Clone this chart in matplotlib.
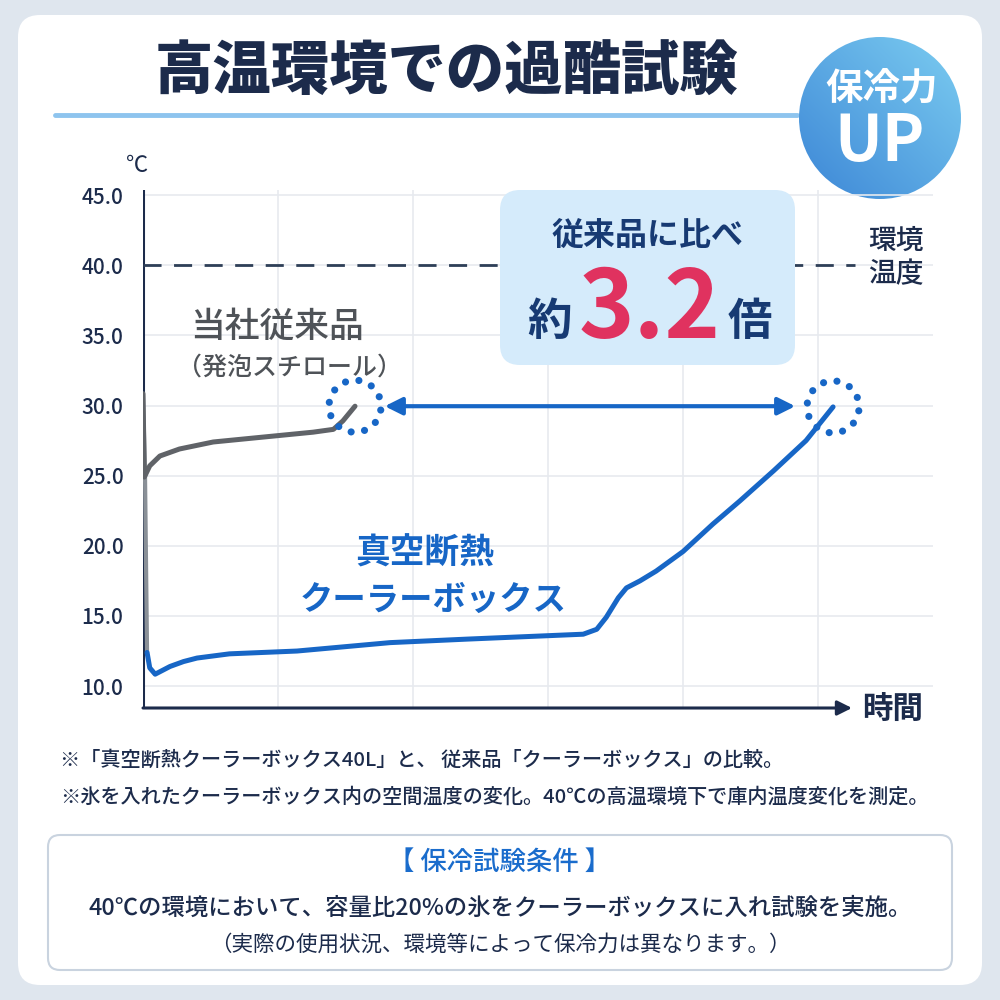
import numpy as np
import matplotlib.pyplot as plt
from matplotlib.patches import FancyBboxPatch, Circle

plt.rcParams['font.family'] = ['Noto Sans CJK JP', 'DejaVu Sans']

# --- Data ---
y_ticks = [10.0, 15.0, 20.0, 25.0, 30.0, 35.0, 40.0, 45.0]
x_grid = [1, 2, 3, 4, 5]
ambient_temp = 40.0

# conventional (styrofoam) box: time in grid units, temperature in C
conv_x = [0.0, 0.01, 0.05, 0.125, 0.27, 0.52, 0.89, 1.26, 1.41, 1.48, 1.57]
conv_y = [30.85, 24.9, 25.7, 26.4, 26.9, 27.4, 27.75, 28.1, 28.3, 28.9, 29.95]

# vacuum insulated cooler box
vac_x = [0.0, 0.015, 0.03, 0.05, 0.09, 0.14, 0.20, 0.30, 0.40, 0.64, 1.14, 1.83, 2.40, 2.94,
         3.26, 3.36, 3.43, 3.52, 3.58, 3.68, 3.80, 4.00, 4.22, 4.42, 4.67, 4.91, 5.11]
vac_y = [30.8, 25.0, 12.4, 11.3, 10.85, 11.1, 11.4, 11.75, 12.0, 12.3, 12.5, 13.1, 13.35, 13.57,
         13.7, 14.05, 14.9, 16.3, 17.0, 17.5, 18.2, 19.6, 21.55, 23.2, 25.35, 27.5, 29.9]

ratio_text = "3.2"

NAVY = '#1c2b4b'
BLUE = '#1766c6'
GRAY = '#606368'

# --- Figure and background ---
fig = plt.figure(figsize=(10, 10), dpi=100)
fig.patch.set_facecolor('#dfe6ee')

bg = fig.add_axes([0, 0, 1, 1])
bg.set_xlim(0, 1000)
bg.set_ylim(1000, 0)
bg.axis('off')

bg.add_patch(FancyBboxPatch((18, 15), 964, 970, boxstyle='round,pad=0,rounding_size=22',
                            fc='white', ec='none'))

bg.text(446, 73, "高温環境での過酷試験", ha='center', va='center', fontsize=42,
        fontweight=900, color=NAVY)
bg.plot([55, 797], [115, 115], color='#8ec4ee', lw=3.5, solid_capstyle='round')

# badge with gradient
gx, gy = np.meshgrid(np.linspace(0, 1, 200), np.linspace(0, 1, 200))
grad = (gx + (1 - gy)) / 2
badge_cmap = plt.matplotlib.colors.LinearSegmentedColormap.from_list('b', ['#3c86d6', '#7ccdf1'])
im = bg.imshow(grad, extent=(798, 962, 200, 36), cmap=badge_cmap, origin='upper', zorder=2)
clip = Circle((880, 118), 81, transform=bg.transData)
im.set_clip_path(clip)
bg.text(882, 88, "保冷力", ha='center', va='center', fontsize=27, fontweight='bold',
        color='white', zorder=3)
bg.text(880, 142, "UP", ha='center', va='center', fontsize=46, fontweight='bold',
        color='white', zorder=3)

# --- Chart ---
ax = fig.add_axes([0.143, 0.292, 0.79, 0.518])
ax.patch.set_alpha(0)
ax.set_xlim(0, 5.85)
ax.set_ylim(8.44, 45.36)
for s in ax.spines.values():
    s.set_visible(False)

ax.set_yticks(y_ticks)
ax.set_yticklabels([f"{v:.1f}" for v in y_ticks], fontsize=15, color=NAVY, fontweight='medium')
ax.set_xticks(x_grid)
ax.set_xticklabels([])
ax.tick_params(length=0, pad=14)
ax.grid(True, color='#e7eaef', lw=1.2)
ax.set_axisbelow(True)

# axes lines
ax.plot([0, 0], [8.44, 45.36], color=NAVY, lw=2.2, zorder=2)
ax.annotate('', xy=(5.25, 8.44), xytext=(0, 8.44),
            arrowprops=dict(arrowstyle='-|>', color=NAVY, lw=2.2, mutation_scale=22,
                            shrinkA=0, shrinkB=0), annotation_clip=False)

# ambient temperature
ax.plot([0, 5.27], [ambient_temp, ambient_temp], color='#2e3f57', lw=2, dashes=(6.5, 4.5), zorder=2)

# curves
ax.plot(vac_x[:3], vac_y[:3], color='#8a9097', lw=3, solid_capstyle='round', zorder=3)
ax.plot(vac_x[2:], vac_y[2:], color=BLUE, lw=3.6, solid_capstyle='round',
        solid_joinstyle='round', zorder=4)
ax.plot(conv_x, conv_y, color=GRAY, lw=3.6, solid_capstyle='round',
        solid_joinstyle='round', zorder=4)

# double arrow between end points
ax.annotate('', xy=(vac_x[-1] - 0.28, conv_y[-1]), xytext=(conv_x[-1] + 0.22, conv_y[-1]),
            arrowprops=dict(arrowstyle='<|-|>', color=BLUE, lw=3, mutation_scale=26,
                            shrinkA=0, shrinkB=0))

# --- Overlay (pixel coordinates) ---
ov = fig.add_axes([0, 0, 1, 1], zorder=5)
ov.set_xlim(0, 1000)
ov.set_ylim(1000, 0)
ov.axis('off')
ov.patch.set_alpha(0)

# dotted rings round the two end points
fig.canvas.draw()
to_px = ov.transData.inverted()
ang = np.linspace(0, 2 * np.pi, 13)[:-1] + 0.15
for ex, ey in [(conv_x[-1], conv_y[-1]), (vac_x[-1], vac_y[-1])]:
    px, py = to_px.transform(ax.transData.transform((ex, ey)))
    ov.scatter(px + 26 * np.cos(ang), py + 26 * np.sin(ang), s=26, color=BLUE,
               edgecolors='none')

ov.text(137, 165, "℃", ha='center', va='center', fontsize=16, color=NAVY)
ov.text(893, 710, "時間", ha='center', va='center', fontsize=22, fontweight='bold', color=NAVY)
ov.text(896, 257, "環境\n温度", ha='center', va='center', fontsize=20, color=NAVY,
        fontweight='medium', linespacing=1.15)

ov.text(277, 327, "当社従来品", ha='center', va='center', fontsize=25, color='#4f5358',
        fontweight='medium')
ov.text(289, 368, "（発泡スチロール）", ha='center', va='center', fontsize=18, color='#4f5358',
        fontweight='medium')
ov.text(425, 553, "真空断熱", ha='center', va='center', fontsize=25, fontweight='bold', color=BLUE)
ov.text(433, 600, "クーラーボックス", ha='center', va='center', fontsize=24, fontweight='bold',
        color=BLUE)

# callout
ov.add_patch(FancyBboxPatch((500, 190), 295, 175, boxstyle='round,pad=0,rounding_size=20',
                            fc='#d5ebfb', ec='none'))
ov.text(648, 237, "従来品に比べ", ha='center', va='center', fontsize=23, fontweight='bold',
        color='#173a73')
ov.text(550, 322, "約", ha='center', va='center', fontsize=32, fontweight='bold', color='#173a73')
ov.text(650, 310, ratio_text, ha='center', va='center', fontsize=68, fontweight='bold',
        color='#e0325f')
ov.text(750, 322, "倍", ha='center', va='center', fontsize=32, fontweight='bold', color='#173a73')

# footnotes
ov.text(60, 760, "※「真空断熱クーラーボックス40L」と、 従来品「クーラーボックス」の比較。",
        ha='left', va='center', fontsize=14.5, color=NAVY, fontweight='medium')
ov.text(60, 797, "※氷を入れたクーラーボックス内の空間温度の変化。40℃の高温環境下で庫内温度変化を測定。",
        ha='left', va='center', fontsize=14.5, color=NAVY, fontweight='medium')

# conditions box
ov.add_patch(FancyBboxPatch((48, 835), 904, 135, boxstyle='round,pad=0,rounding_size=12',
                            fc='white', ec='#c9d3df', lw=1.5))
ov.text(500, 862, "【 保冷試験条件 】", ha='center', va='center', fontsize=19,
        fontweight='medium', color='#1a6ccc')
ov.text(500, 908, "40℃の環境において、容量比20%の氷をクーラーボックスに入れ試験を実施。",
        ha='center', va='center', fontsize=16.8, color=NAVY, fontweight='medium')
ov.text(500, 945, "（実際の使用状況、環境等によって保冷力は異なります。）",
        ha='center', va='center', fontsize=15.5, color=NAVY)

fig.savefig('out.png', dpi=100)
